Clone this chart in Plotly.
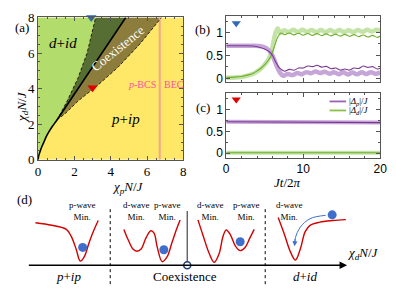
import plotly.graph_objects as go

SERIF = "Liberation Serif"
SANS = "Liberation Sans"

# ---------------- Panel (a): phase diagram ----------------
ticks_a = [0, 2, 4, 6, 8]
lower_x = [0, 0.02, 0.06, 0.12, 0.2, 0.3, 0.45, 0.6, 0.8, 1.05]
lower_y = [0, 0.15, 0.32, 0.5, 0.72, 0.95, 1.3, 1.58, 1.9, 2.25]
first_x = [1.05, 4.83]
first_y = [2.25, 8.0]
left_x = [1.05, 1.6, 2.2, 2.7, 3.17]
left_y = [2.25, 3.3, 4.6, 6.0, 8.0]
right_x = [1.05, 1.5, 2.2, 3.3, 4.4, 5.6, 6.8]
right_y = [2.25, 2.6, 3.3, 4.2, 5.2, 6.5, 8.0]
bec_x = 6.7
blue_pt = [2.93, 8.0]
red_pt = [3.0, 4.05]

# ---------------- Panel (b): dynamics from blue point ----------------
tb_p_thin = [0, 2, 3.5, 4.3, 5.0, 5.6, 6.0, 6.45, 6.8, 7.1,
             7.6, 8.2, 8.8, 9.4, 10.0, 10.6, 11.2, 11.8, 12.4, 13.0, 13.6,
             14.2, 14.8, 15.4, 16.0, 16.6, 17.2, 17.8, 18.4, 19.0, 19.6, 20.0]
vb_p_thin = [0.71, 0.71, 0.705, 0.68, 0.64, 0.58, 0.5, 0.35, 0.25, 0.2,
             0.155, 0.195, 0.175, 0.225, 0.225, 0.27, 0.255, 0.285, 0.245, 0.26, 0.21,
             0.225, 0.18, 0.205, 0.18, 0.225, 0.215, 0.27, 0.24, 0.255, 0.205, 0.22]
tb_p_thick = [0, 2, 3.5, 4.5, 5.2, 5.8, 6.2, 6.6, 7.0,
              7.4, 8.0, 8.6, 9.2, 9.8, 10.4, 11.0, 11.6, 12.2, 12.8, 13.4,
              14.0, 14.6, 15.2, 15.8, 16.4, 17.0, 17.6, 18.2, 18.8, 19.4, 20.0]
vb_p_thick = [0.71, 0.71, 0.71, 0.70, 0.66, 0.56, 0.42, 0.25, 0.12,
              0.055, 0.095, 0.07, 0.115, 0.09, 0.135, 0.11, 0.15, 0.115, 0.145, 0.10,
              0.135, 0.09, 0.13, 0.085, 0.125, 0.09, 0.13, 0.095, 0.135, 0.10, 0.13]
tb_d_thin = [0, 1, 2, 3, 3.5, 4, 4.5, 5, 5.5, 5.9, 6.3, 6.7, 7.1,
             7.6, 8.2, 8.8, 9.4, 10.0, 10.6, 11.2, 11.8, 12.4, 13.0, 13.6,
             14.2, 14.8, 15.4, 16.0, 16.6, 17.2, 17.8, 18.4, 19.0, 19.6, 20.0]
vb_d_thin = [0.02, 0.025, 0.04, 0.08, 0.11, 0.16, 0.22, 0.3, 0.4, 0.52, 0.72, 0.9, 0.99,
             0.955, 0.99, 0.948, 0.985, 0.942, 0.98, 0.937, 0.975, 0.932, 0.97, 0.927,
             0.965, 0.922, 0.96, 0.917, 0.955, 0.91, 0.947, 0.902, 0.938, 0.894, 0.925]
tb_d_thick = [0, 1, 2, 3, 3.5, 4, 4.5, 5, 5.5, 5.9, 6.2, 6.45, 6.7,
              7.0, 7.5, 8.1, 8.7, 9.3, 9.9, 10.5, 11.1, 11.7, 12.3, 12.9, 13.5,
              14.1, 14.7, 15.3, 15.9, 16.5, 17.1, 17.7, 18.3, 18.9, 19.5, 20.0]
vb_d_thick = [0.01, 0.015, 0.03, 0.07, 0.1, 0.15, 0.21, 0.3, 0.42, 0.6, 0.85, 1.02, 1.09,
              0.99, 1.05, 1.01, 1.06, 1.015, 1.06, 1.015, 1.055, 1.01, 1.055, 1.01, 1.055,
              1.01, 1.055, 1.01, 1.05, 1.01, 1.055, 1.015, 1.06, 1.02, 1.06, 1.03]
marker_b = [1.3, 1.2]

# ---------------- Panel (c): dynamics from red point ----------------
tc = [0, 5, 10, 15, 20]
vc_p = [0.72, 0.715, 0.71, 0.705, 0.70]
vc_d = [0.01, 0.01, 0.01, 0.01, 0.01]
marker_c = [1.3, 1.23]
legend_labels = ["|<i>Δ<sub>p</sub></i>|/<i>J</i>", "|<i>Δ<sub>d</sub></i>|/<i>J</i>"]

# ---------------- Panel (d): schematic potentials (pixel space) ----------------
pot1_x = [33.3, 50, 65, 70, 75, 79.3, 83.3, 88.3, 93.3, 97.7]
pot1_y = [227.3, 230, 234.3, 241.7, 255, 267.7, 263.3, 248.3, 235, 225]
pot2_x = [124, 128.3, 133.3, 137.3, 141.7, 146.7, 151.7, 155, 158.3, 163.3, 168.3, 173.3, 178.3, 181.7]
pot2_y = [234.3, 245, 255, 257.3, 255, 243.3, 235.7, 238.3, 253.3, 268.3, 263.3, 248.3, 233.3, 224.3]
pot3_x = [200, 205, 211.7, 216.7, 221.7, 225.7, 229, 233.3, 238.3, 243.3, 248.3, 253.3, 257.7]
pot3_y = [224.3, 240, 260, 269, 260, 241.7, 235, 240, 251.7, 256.7, 253.3, 243.3, 234.3]
pot4_x = [282.3, 288.3, 295, 300, 305, 310, 315, 325, 338.3, 351.7]
pot4_y = [221.7, 238.3, 258.3, 266.7, 255, 236.7, 230, 226.7, 225, 224]
balls_x = [81.7, 165, 243.3, 337.7]
balls_y = [253.3, 255.7, 247.3, 219]
roll_x = [331, 315, 305, 300, 299]
roll_y = [219.5, 223, 232, 243, 250]
min_labels = ["p-wave<br>Min.", "d-wave<br>Min.", "p-wave<br>Min.",
              "d-wave<br>Min.", "p-wave<br>Min.", "d-wave<br>Min."]
min_label_x = [81.7, 136.7, 168.3, 213.3, 250, 294]
phase_labels = ["<i>p</i>+<i>ip</i>", "Coexistence", "<i>d</i>+<i>id</i>"]
phase_label_x = [67, 187, 310]
dashed_sep_x = [110, 269]
coex_line_x = 189
axis_d_x = [25, 353]
axis_d_y = 272

C_LG = "#B2DC6C"
C_DG = "#566D33"
C_BR = "#8C7D3D"
C_YE = "#FFE867"
C_PTHIN = "#7A3990"
C_PTHICK = "#C6A6D9"
C_GTHIN = "#6FAE2E"
C_GTHICK = "#C4E3A6"
RED = "#D40000"
BLUE = "#3D6FCB"

fig = go.Figure()

# ---- panel a fills ----
fig.add_trace(go.Scatter(x=lower_x + left_x[1:] + [0], y=lower_y + left_y[1:] + [8],
                         fill="toself", fillcolor=C_LG, line=dict(width=0), mode="lines",
                         xaxis="x", yaxis="y", showlegend=False, hoverinfo="skip"))
fig.add_trace(go.Scatter(x=left_x + [first_x[1], first_x[0]], y=left_y + [first_y[1], first_y[0]],
                         fill="toself", fillcolor=C_DG, line=dict(width=0), mode="lines",
                         xaxis="x", yaxis="y", showlegend=False, hoverinfo="skip"))
fig.add_trace(go.Scatter(x=first_x + right_x[::-1], y=first_y + right_y[::-1],
                         fill="toself", fillcolor=C_BR, line=dict(width=0), mode="lines",
                         xaxis="x", yaxis="y", showlegend=False, hoverinfo="skip"))
fig.add_trace(go.Scatter(x=[bec_x, bec_x], y=[0, 8], mode="lines",
                         line=dict(color="#F6A48C", width=2), xaxis="x", yaxis="y",
                         showlegend=False))
for xs, ys in [(left_x, left_y), (right_x, right_y)]:
    fig.add_trace(go.Scatter(x=xs, y=ys, mode="lines", line=dict(color="black", width=0.8, dash="3px,2px"),
                             xaxis="x", yaxis="y", showlegend=False))
fig.add_trace(go.Scatter(x=lower_x + first_x[1:], y=lower_y + first_y[1:], mode="lines",
                         line=dict(color="black", width=1.6, shape="spline", smoothing=0.6),
                         xaxis="x", yaxis="y", showlegend=False))
fig.add_trace(go.Scatter(x=[blue_pt[0]], y=[blue_pt[1]], mode="markers",
                         marker=dict(symbol="triangle-down", size=9, color="#2E6BB3"),
                         xaxis="x", yaxis="y", showlegend=False, cliponaxis=False))
fig.add_trace(go.Scatter(x=[red_pt[0]], y=[red_pt[1]], mode="markers",
                         marker=dict(symbol="triangle-down", size=9, color="#E00000"),
                         xaxis="x", yaxis="y", showlegend=False))

# ---- panel b ----
fig.add_trace(go.Scatter(x=tb_d_thick, y=vb_d_thick, mode="lines",
                         line=dict(color=C_GTHICK, width=4.5, shape="spline"),
                         xaxis="x2", yaxis="y2", showlegend=False))
fig.add_trace(go.Scatter(x=tb_p_thick, y=vb_p_thick, mode="lines",
                         line=dict(color=C_PTHICK, width=4.5, shape="spline"),
                         xaxis="x2", yaxis="y2", showlegend=False))
fig.add_trace(go.Scatter(x=tb_d_thin, y=vb_d_thin, mode="lines",
                         line=dict(color=C_GTHIN, width=1.1, shape="spline"),
                         xaxis="x2", yaxis="y2", showlegend=False))
fig.add_trace(go.Scatter(x=tb_p_thin, y=vb_p_thin, mode="lines",
                         line=dict(color=C_PTHIN, width=1.1, shape="spline"),
                         xaxis="x2", yaxis="y2", showlegend=False))
fig.add_trace(go.Scatter(x=[marker_b[0]], y=[marker_b[1]], mode="markers",
                         marker=dict(symbol="triangle-down", size=8, color="#2E6BB3"),
                         xaxis="x2", yaxis="y2", showlegend=False))

# ---- panel c ----
fig.add_trace(go.Scatter(x=tc, y=vc_p, mode="lines", line=dict(color=C_PTHICK, width=4),
                         xaxis="x3", yaxis="y3", showlegend=False))
fig.add_trace(go.Scatter(x=tc, y=vc_d, mode="lines", line=dict(color=C_GTHICK, width=4),
                         xaxis="x3", yaxis="y3", showlegend=False))
fig.add_trace(go.Scatter(x=tc, y=vc_p, mode="lines", line=dict(color=C_PTHIN, width=1.1),
                         xaxis="x3", yaxis="y3", showlegend=False))
fig.add_trace(go.Scatter(x=tc, y=vc_d, mode="lines", line=dict(color=C_GTHIN, width=1.1),
                         xaxis="x3", yaxis="y3", showlegend=False))
fig.add_trace(go.Scatter(x=[marker_c[0]], y=[marker_c[1]], mode="markers",
                         marker=dict(symbol="triangle-down", size=8, color="#E00000"),
                         xaxis="x3", yaxis="y3", showlegend=False))

# ---- panel d ----
for px, py in [(pot1_x, pot1_y), (pot2_x, pot2_y), (pot3_x, pot3_y), (pot4_x, pot4_y)]:
    fig.add_trace(go.Scatter(x=px, y=py, mode="lines",
                             line=dict(color=RED, width=1.4, shape="spline", smoothing=1.0),
                             xaxis="x4", yaxis="y4", showlegend=False))
fig.add_trace(go.Scatter(x=roll_x, y=roll_y, mode="lines",
                         line=dict(color=BLUE, width=1, shape="spline"),
                         xaxis="x4", yaxis="y4", showlegend=False))
fig.add_trace(go.Scatter(x=balls_x, y=balls_y, mode="markers",
                         marker=dict(size=9, color=BLUE),
                         xaxis="x4", yaxis="y4", showlegend=False))
for dx in dashed_sep_x:
    fig.add_trace(go.Scatter(x=[dx, dx], y=[213, 295], mode="lines",
                             line=dict(color="black", width=1, dash="3px,3px"),
                             xaxis="x4", yaxis="y4", showlegend=False))
fig.add_trace(go.Scatter(x=[coex_line_x, coex_line_x], y=[215, axis_d_y], mode="lines",
                         line=dict(color="#555555", width=1.3),
                         xaxis="x4", yaxis="y4", showlegend=False))

annotations = []
annotations.append(dict(x=axis_d_x[1], y=axis_d_y, ax=axis_d_x[0], ay=axis_d_y,
                        xref="x4", yref="y4", axref="x4", ayref="y4", text="",
                        showarrow=True, arrowhead=2, arrowsize=1, arrowwidth=1.5, arrowcolor="black"))
annotations.append(dict(x=roll_x[-1], y=roll_y[-1] + 2, ax=roll_x[-2], ay=roll_y[-2],
                        xref="x4", yref="y4", axref="x4", ayref="y4", text="",
                        showarrow=True, arrowhead=2, arrowsize=1, arrowwidth=1, arrowcolor=BLUE))

fig.add_trace(go.Scatter(x=[coex_line_x], y=[axis_d_y], mode="markers",
                         marker=dict(size=7, color="white", line=dict(color="#1F3F7A", width=1.5)),
                         xaxis="x4", yaxis="y4", showlegend=False))

for lab, lx in zip(min_labels, min_label_x):
    annotations.append(dict(x=lx, y=215, xref="x4", yref="y4", text=lab, showarrow=False,
                            font=dict(family=SERIF, size=9, color="black")))
for lab, lx in zip(phase_labels, phase_label_x):
    annotations.append(dict(x=lx, y=284, xref="x4", yref="y4", text=lab, showarrow=False,
                            font=dict(family=SERIF, size=13, color="black")))
annotations.append(dict(x=369, y=260, xref="x4", yref="y4", text="<i>χ<sub>d</sub>N</i>/<i>J</i>",
                        showarrow=False, font=dict(family=SERIF, size=13, color="black")))

# text in panel a
annotations.append(dict(x=1.35, y=6.55, xref="x", yref="y", text="<i>d</i>+<i>id</i>", showarrow=False,
                        font=dict(family=SERIF, size=15, color="black")))
annotations.append(dict(x=4.8, y=2.27, xref="x", yref="y", text="<i>p</i>+<i>ip</i>", showarrow=False,
                        font=dict(family=SERIF, size=15, color="black")))
annotations.append(dict(x=4.38, y=6.25, xref="x", yref="y", text="Coexistence", showarrow=False,
                        textangle=-39, font=dict(family=SERIF, size=13, color="white")))
annotations.append(dict(x=bec_x - 0.08, y=4.25, xref="x", yref="y", text="<i>p</i>-BCS", showarrow=False,
                        xanchor="right", font=dict(family=SERIF, size=10, color="#FF4FA8")))
annotations.append(dict(x=bec_x + 0.12, y=4.25, xref="x", yref="y", text="BEC", showarrow=False,
                        xanchor="left", font=dict(family=SERIF, size=10, color="#FF4FA8")))

# axis titles
annotations.append(dict(x=110 / 396, y=1 - 190 / 295, xref="paper", yref="paper",
                        text="<i>χ<sub>p</sub>N</i>/<i>J</i>", showarrow=False,
                        font=dict(family=SERIF, size=13, color="black")))
annotations.append(dict(x=9 / 396, y=1 - 86 / 295, xref="paper", yref="paper", textangle=-90,
                        text="<i>χ<sub>d</sub>N</i>/<i>J</i>", showarrow=False,
                        font=dict(family=SERIF, size=13, color="black")))
annotations.append(dict(x=308 / 396, y=1 - 185 / 295, xref="paper", yref="paper",
                        text="<i>Jt</i>/2<i>π</i>", showarrow=False,
                        font=dict(family=SERIF, size=13, color="black")))

for lab, px, py in [("(a)", 10, 12), ("(b)", 205, 14), ("(c)", 205, 96), ("(d)", 12, 213)]:
    annotations.append(dict(x=px / 396, y=1 - py / 295, xref="paper", yref="paper", text=lab,
                            showarrow=False, font=dict(family=SERIF, size=13, color="black")))

# legend of (c)
shapes = []
leg_colors = ["#9A62B4", "#8CC04A"]
leg_y = [99.5, 109]
for lab, col, ly in zip(legend_labels, leg_colors, leg_y):
    shapes.append(dict(type="line", xref="paper", yref="paper",
                       x0=335 / 396, x1=352 / 396, y0=1 - ly / 295, y1=1 - ly / 295,
                       line=dict(color=col, width=1.8)))
    annotations.append(dict(x=353 / 396, y=1 - ly / 295, xref="paper", yref="paper", text=lab,
                            xanchor="left", yanchor="middle", showarrow=False,
                            font=dict(family=SERIF, size=9, color="black")))

frame = dict(showline=True, linecolor="#555555", linewidth=1, mirror="ticks",
             ticks="inside", ticklen=4, tickcolor="#555555", showgrid=False, zeroline=False,
             ticklabeloverflow="allow")

fig.update_layout(
    width=396, height=295, margin=dict(l=0, r=0, t=0, b=0),
    paper_bgcolor="white", plot_bgcolor="white", showlegend=False,
    xaxis=dict(domain=[36 / 396, 185 / 396], anchor="y", range=[0, 8], tickvals=ticks_a,
               tickfont=dict(family=SERIF, size=13, color="black"),
               minor=dict(ticks="inside", ticklen=2, dtick=0.5, tickcolor="#555555"), **frame),
    yaxis=dict(domain=[1 - 161 / 295, 1 - 11 / 295], anchor="x", range=[0, 8], tickvals=ticks_a,
               tickfont=dict(family=SERIF, size=13, color="black"),
               minor=dict(ticks="inside", ticklen=2, dtick=0.5, tickcolor="#555555"), **frame),
    xaxis2=dict(domain=[229 / 396, 387 / 396], anchor="y2", range=[0, 20], dtick=10,
                showticklabels=False,
                minor=dict(ticks="inside", ticklen=2, dtick=2, tickcolor="#555555"), **frame),
    yaxis2=dict(domain=[1 - 79 / 295, 1 - 10 / 295], anchor="x2", range=[-0.08, 1.35],
                tickvals=[0, 0.5, 1], ticktext=["0", "0.5", "1"],
                tickfont=dict(family=SANS, size=12, color="black"),
                minor=dict(ticks="inside", ticklen=2, dtick=0.25, tickcolor="#555555"), **frame),
    xaxis3=dict(domain=[229 / 396, 387 / 396], anchor="y3", range=[0, 20], dtick=10,
                tickfont=dict(family=SANS, size=12, color="black"),
                minor=dict(ticks="inside", ticklen=2, dtick=2, tickcolor="#555555"), **frame),
    yaxis3=dict(domain=[1 - 159 / 295, 1 - 91 / 295], anchor="x3", range=[-0.11, 1.37],
                tickvals=[0, 0.5, 1], ticktext=["0", "0.5", "1"],
                tickfont=dict(family=SANS, size=12, color="black"),
                minor=dict(ticks="inside", ticklen=2, dtick=0.25, tickcolor="#555555"), **frame),
    xaxis4=dict(domain=[0, 1], anchor="y4", range=[0, 396], visible=False, fixedrange=True),
    yaxis4=dict(domain=[0, 100 / 295], anchor="x4", range=[295, 195], visible=False, fixedrange=True),
    annotations=annotations, shapes=shapes,
)
fig.add_shape(type="rect", xref="x", yref="y", x0=0, x1=8, y0=0, y1=8, fillcolor=C_YE,
              line=dict(width=0), layer="below")

fig.write_html("out.html", config={"displayModeBar": False},
               post_script="document.body.style.margin='0';document.body.style.overflow='hidden';")
